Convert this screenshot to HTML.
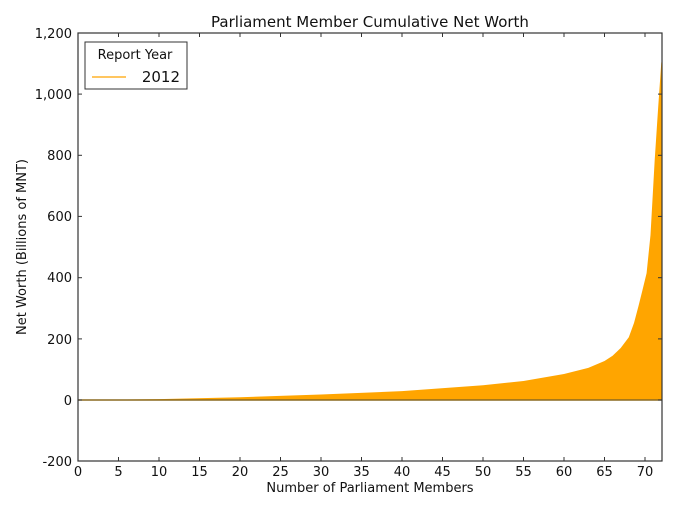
<!DOCTYPE html>
<html><head><meta charset="utf-8"><style>body{margin:0;background:#fff}svg{display:block;font-family:"DejaVu Sans","Liberation Sans",sans-serif}</style></head>
<body>
<svg width="678" height="509" viewBox="0 0 678 509">
<rect width="678" height="509" fill="#fff"/>
<path d="M78,400 L159,399.1 L240,397.2 L321,394.5 L402,391.1 L483,385.3 L523.5,381 L564,374 L588.3,367.9 L604.5,361 L612.6,355.7 L620.7,348 L628.8,337.3 L634,323 L638.5,306 L642.5,290 L646.6,273.1 L650.5,235 L654.7,160 L658,110 L661.2,63.7 L662,58 L662,400 Z" fill="#ffa500"/>
<line x1="78" y1="400" x2="662" y2="400" stroke="#8a6a20" stroke-width="1.5"/>
<rect x="78" y="33" width="584" height="428" fill="none" stroke="#333" stroke-width="1.2"/>
<g stroke="#333" stroke-width="1">
<line x1="78" y1="33" x2="82" y2="33"/><line x1="658" y1="33" x2="662" y2="33"/>
<line x1="78" y1="94.1" x2="82" y2="94.1"/><line x1="658" y1="94.1" x2="662" y2="94.1"/>
<line x1="78" y1="155.3" x2="82" y2="155.3"/><line x1="658" y1="155.3" x2="662" y2="155.3"/>
<line x1="78" y1="216.4" x2="82" y2="216.4"/><line x1="658" y1="216.4" x2="662" y2="216.4"/>
<line x1="78" y1="277.7" x2="82" y2="277.7"/><line x1="658" y1="277.7" x2="662" y2="277.7"/>
<line x1="78" y1="338.9" x2="82" y2="338.9"/><line x1="658" y1="338.9" x2="662" y2="338.9"/>
<line x1="78" y1="400" x2="82" y2="400"/><line x1="658" y1="400" x2="662" y2="400"/>
</g>
<g stroke="#333" stroke-width="1">
<path d="M118.5,461v-4M118.5,33v4M159,461v-4M159,33v4M199.5,461v-4M199.5,33v4M240,461v-4M240,33v4M280.5,461v-4M280.5,33v4M321,461v-4M321,33v4M361.5,461v-4M361.5,33v4M402,461v-4M402,33v4M442.5,461v-4M442.5,33v4M483,461v-4M483,33v4M523.5,461v-4M523.5,33v4M564,461v-4M564,33v4M604.5,461v-4M604.5,33v4M645,461v-4M645,33v4"/>
</g>
<g font-size="13" fill="#111" text-anchor="end">
<text x="72" y="38">1,200</text><text x="72" y="99">1,000</text><text x="72" y="160">800</text>
<text x="72" y="221">600</text><text x="72" y="282">400</text><text x="72" y="344">200</text>
<text x="72" y="405">0</text><text x="72" y="466">-200</text>
</g>
<g font-size="13" fill="#111" text-anchor="middle">
<text x="78" y="476">0</text><text x="118.5" y="476">5</text><text x="159" y="476">10</text><text x="199.5" y="476">15</text>
<text x="240" y="476">20</text><text x="280.5" y="476">25</text><text x="321" y="476">30</text><text x="361.5" y="476">35</text>
<text x="402" y="476">40</text><text x="442.5" y="476">45</text><text x="483" y="476">50</text><text x="523.5" y="476">55</text>
<text x="564" y="476">60</text><text x="604.5" y="476">65</text><text x="645" y="476">70</text>
<text x="370" y="492">Number of Parliament Members</text>
<text x="370" y="27" font-size="15">Parliament Member Cumulative Net Worth</text>
<text transform="translate(26,247) rotate(-90)">Net Worth (Billions of MNT)</text>
</g>
<rect x="85" y="42" width="102" height="47" fill="#fff" stroke="#333" stroke-width="1"/>
<text x="135" y="59" font-size="13" text-anchor="middle" fill="#111">Report Year</text>
<line x1="92" y1="77" x2="126" y2="77" stroke="#ffa500" stroke-width="1.2"/>
<text x="180" y="82" font-size="15" text-anchor="end" fill="#111">2012</text>
</svg>
</body></html>
